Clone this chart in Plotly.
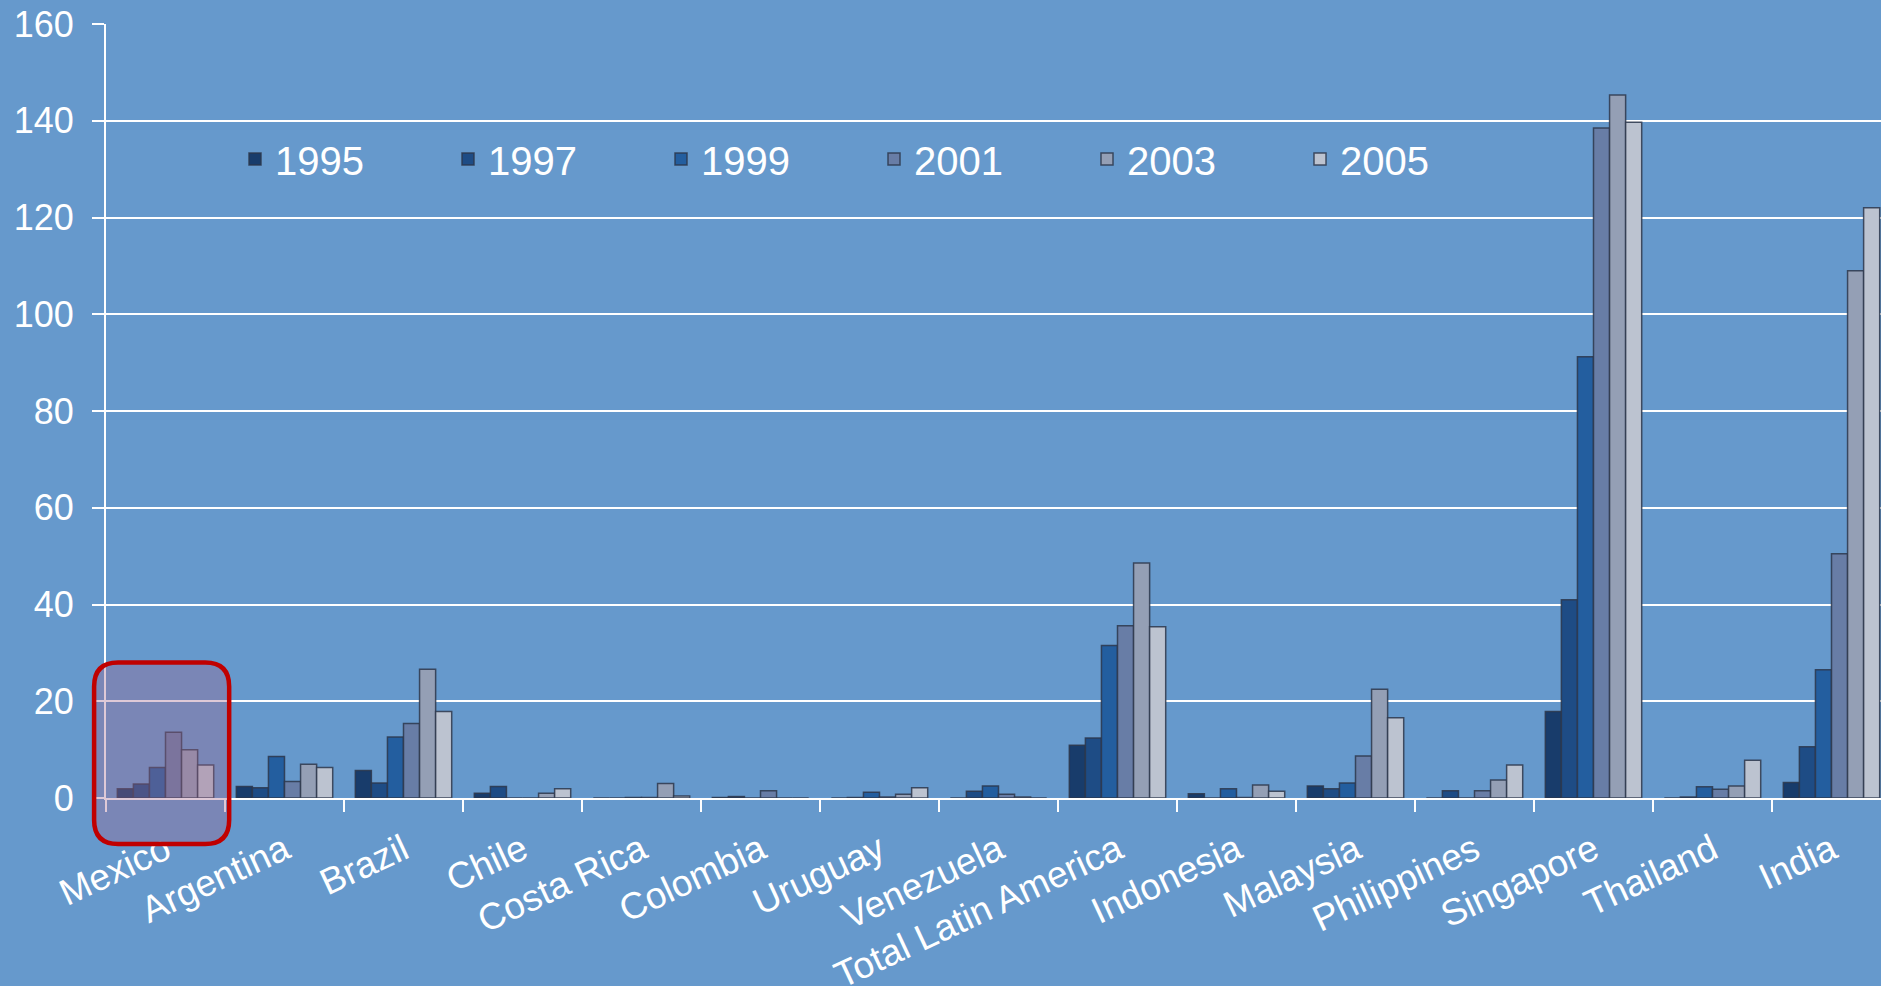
import plotly.graph_objects as go

# Categories along the x axis
categories = [
    "Mexico", "Argentina", "Brazil", "Chile", "Costa Rica", "Colombia",
    "Uruguay", "Venezuela", "Total Latin America", "Indonesia", "Malaysia",
    "Philippines", "Singapore", "Thailand", "India",
]

years = ["1995", "1997", "1999", "2001", "2003", "2005"]

v1995 = [1.9, 2.4, 5.7, 1.0, 0.0, 0.1, 0.0, 0.0, 10.9, 0.9, 2.5, 0.0, 17.9, 0.0, 3.2]
v1997 = [2.9, 2.1, 3.1, 2.4, 0.0, 0.3, 0.1, 1.4, 12.4, 0.0, 1.9, 1.5, 41.0, 0.2, 10.6]
v1999 = [6.3, 8.6, 12.6, 0.0, 0.1, 0.0, 1.2, 2.5, 31.5, 1.9, 3.1, 0.0, 91.2, 2.3, 26.5]
v2001 = [13.6, 3.4, 15.4, 0.0, 0.1, 1.5, 0.2, 0.8, 35.6, 0.1, 8.7, 1.5, 138.5, 1.8, 50.5]
v2003 = [10.0, 7.0, 26.6, 1.0, 3.0, 0.0, 0.8, 0.2, 48.6, 2.7, 22.5, 3.7, 145.3, 2.5, 109.0]
v2005 = [6.8, 6.3, 17.9, 1.9, 0.4, 0.0, 2.1, 0.0, 35.4, 1.4, 16.6, 6.8, 139.7, 7.8, 122.0]

y_ticks = [0, 20, 40, 60, 80, 100, 120, 140, 160]

series = [v1995, v1997, v1999, v2001, v2003, v2005]
colors = ["#183C6B", "#1E4C85", "#235E9F", "#687DA6", "#949FB5", "#BCC3D0"]

BG = "#6699CC"
FONT = "Liberation Sans, Arial, sans-serif"

# Page and plot geometry
W, H = 1881, 986
M_L, M_R, M_T, M_B = 106, 0, 24, 188
PLOT_W = W - M_L - M_R
PLOT_H = H - M_T - M_B
CAT_STEP = 119.0  # pixels per category
x_range = [-0.5, -0.5 + PLOT_W / CAT_STEP]
y_range = [0, 160]

fig = go.Figure()
for name, vals, col in zip(years, series, colors):
    fig.add_trace(go.Bar(
        name=name, x=categories, y=vals,
        marker=dict(color=col, line=dict(color="rgba(45,55,75,0.85)", width=1.5)),
    ))


def to_paper_x(v):
    return (v - x_range[0]) / (x_range[1] - x_range[0])


def to_paper_y(v):
    return (v - y_range[0]) / (y_range[1] - y_range[0])


def rounded_rect(x0, y0, x1, y1, rx, ry):
    return (
        f"M {x0 + rx},{y0} L {x1 - rx},{y0} Q {x1},{y0} {x1},{y0 + ry} "
        f"L {x1},{y1 - ry} Q {x1},{y1} {x1 - rx},{y1} "
        f"L {x0 + rx},{y1} Q {x0},{y1} {x0},{y1 - ry} "
        f"L {x0},{y0 + ry} Q {x0},{y0} {x0 + rx},{y0} Z"
    )


# Highlight box around the Mexico group (axis units, converted to paper)
hx0, hx1 = to_paper_x(-0.60), to_paper_x(0.535)
hy0, hy1 = to_paper_y(-9.5), to_paper_y(28.0)
radius = 24
fig.add_shape(
    type="path", xref="paper", yref="paper", layer="above",
    path=rounded_rect(hx0, hy0, hx1, hy1, radius / PLOT_W, radius / PLOT_H),
    fillcolor="rgba(160,100,140,0.35)",
    line=dict(color="#C00000", width=4.5),
)

fig.update_layout(
    width=W, height=H,
    margin=dict(l=M_L, r=M_R, t=M_T, b=M_B, pad=0),
    paper_bgcolor=BG, plot_bgcolor=BG,
    font=dict(family=FONT, color="white"),
    barmode="group", bargap=0.19, bargroupgap=0,
    showlegend=True,
    legend=dict(
        orientation="h", x=to_paper_x(-0.5) + (235 - M_L) / PLOT_W, xanchor="left",
        y=(798 - 159) / PLOT_H, yanchor="middle",
        font=dict(size=40, color="white", family=FONT),
        bgcolor="rgba(0,0,0,0)", borderwidth=0,
        entrywidthmode="pixels", entrywidth=168,
        traceorder="normal",
    ),
    xaxis=dict(
        range=x_range, showgrid=False, zeroline=False, automargin=False,
        showline=True, linecolor="white", linewidth=2,
        ticks="outside", tickson="boundaries", ticklen=12, tickwidth=2, tickcolor="white",
        tickangle=-25, tickfont=dict(size=37, color="white", family=FONT),
        ticklabelstandoff=14,
    ),
    yaxis=dict(
        range=y_range, tickvals=y_ticks, showgrid=True, gridcolor="white", gridwidth=2,
        zeroline=False, showline=True, linecolor="white", linewidth=2, automargin=False,
        ticks="outside", ticklen=12, tickwidth=2, tickcolor="white",
        tickfont=dict(size=36, color="white", family=FONT),
        ticklabelstandoff=11,
    ),
)

fig.write_html("out.html")
